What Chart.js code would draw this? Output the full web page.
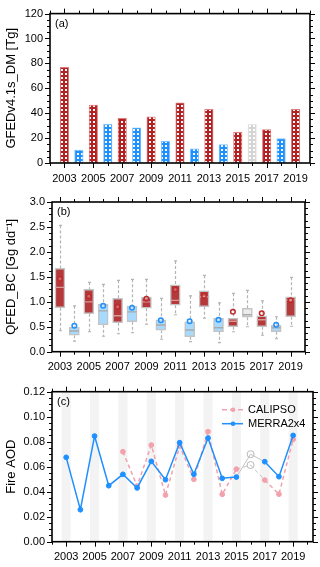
<!doctype html>
<html lang="en">
<head>
<meta charset="utf-8">
<title>Fire emissions and AOD, 2003-2019</title>
<script src="https://cdn.jsdelivr.net/npm/chart.js"></script>
<style>
  html, body { margin: 0; padding: 0; background: #fff; }
  .wrap { position: relative; width: 320px; height: 567px; }
  .panel { position: absolute; left: 0; width: 320px; }
</style>
</head>
<body>
<div class="wrap">
  <div class="panel" style="top:0;height:190px"><canvas id="chartA"></canvas></div>
  <div class="panel" style="top:185px;height:190px"><canvas id="chartB"></canvas></div>
  <div class="panel" style="top:375px;height:192px"><canvas id="chartC"></canvas></div>
</div>
<script>
// ---- data ----
const years = [2003, 2004, 2005, 2006, 2007, 2008, 2009, 2010, 2011, 2012, 2013, 2014, 2015, 2016, 2017, 2018, 2019];
const labelYears = [2003, 2005, 2007, 2009, 2011, 2013, 2015, 2017, 2019];
// r = high fire year, b = low fire year, g = excluded
const yearType = ['r','b','r','b','r','b','r','b','r','b','r','b','r','g','r','b','r'];

// (a) GFEDv4.1s dry matter [Tg]
const gfedDM = [76.8, 10.3, 46.6, 31.0, 35.8, 28.2, 37.1, 17.4, 48.4, 11.3, 43.2, 14.7, 24.7, 31.0, 26.8, 19.7, 43.2];

// (b) QFED BC [Gg dd-1] box statistics
const bcMin  = [0.42, 0.21, 0.40, 0.31, 0.36, 0.38, 0.55, 0.25, 0.74, 0.20, 0.67, 0.18, 0.40, 0.50, 0.33, 0.26, 0.51];
const bcQ1   = [0.88, 0.33, 0.76, 0.54, 0.58, 0.60, 0.87, 0.43, 0.93, 0.30, 0.90, 0.40, 0.50, 0.69, 0.50, 0.40, 0.70];
const bcMed  = [1.29, 0.415, 1.00, 0.82, 0.72, 0.80, 1.00, 0.535, 1.03, 0.435, 1.10, 0.48, 0.61, 0.74, 0.64, 0.48, 1.04];
const bcQ3   = [1.67, 0.49, 1.25, 0.95, 1.07, 0.91, 1.09, 0.64, 1.34, 0.60, 1.22, 0.67, 0.67, 0.87, 0.72, 0.53, 1.10];
const bcMax  = [2.53, 0.92, 1.39, 1.35, 1.43, 1.45, 1.45, 1.07, 1.82, 1.12, 1.53, 0.98, 1.17, 1.23, 1.02, 0.70, 1.49];
const bcMean = [1.46, 0.52, 1.11, 0.92, 0.90, 0.88, 1.06, 0.63, 1.245, 0.61, 1.12, 0.64, 0.80, null, 0.77, 0.54, 1.03];

// (c) Fire AOD
const calipsoAOD = [null, null, null, null, 0.072, 0.0445, 0.0773, 0.0373, 0.0765, 0.0499, 0.088, 0.0379, 0.058, 0.0613, 0.0493, 0.038, 0.0819];
const merraAOD   = [0.0675, 0.0256, 0.0845, 0.0448, 0.0539, 0.043, 0.0643, 0.0496, 0.0792, 0.0539, 0.0829, 0.0507, 0.0517, 0.070, 0.064, 0.052, 0.085];

// ---- styling ----
const FONT = "'Liberation Sans', Arial, Helvetica, sans-serif";
Chart.defaults.font.family = FONT;
Chart.defaults.color = '#000';
Chart.defaults.animation = false;

const RED = '#b22222', BLUE = '#1e90ff', GREY = '#d4d4d4';

function hatch(color) {
  const c = document.createElement('canvas');
  c.width = 4; c.height = 4;
  const g = c.getContext('2d');
  g.fillStyle = color; g.fillRect(0, 0, 4, 4);
  g.fillStyle = '#fff'; g.fillRect(1, 1, 2, 2);
  return g.createPattern(c, 'repeat');
}
const fillOf = { r: hatch(RED), b: hatch(BLUE), g: hatch(GREY) };
const edgeOf = { r: '#e07b7b', b: '#7cc0ff', g: '#e6e6e6' };
const boxFill = { r: '#b5393b', b: '#a6dbff', g: '#ececec' };
const meanCol = { r: '#c0282a', b: '#1e90ff' };

function xScale(min, max, h) {
  return {
    type: 'linear', min: min, max: max, offset: false,
    grid: { display: false, drawTicks: false }, border: { display: false },
    ticks: { font: { size: 11 }, padding: 9, autoSkip: false, maxRotation: 0, callback: v => String(v) },
    afterBuildTicks: s => { s.ticks = labelYears.map(v => ({ value: v })); },
    afterFit: s => { s.height = h; }
  };
}
function yScale(min, max, step, dec, title, w) {
  return {
    min: min, max: max,
    grid: { display: false, drawTicks: false }, border: { display: false },
    ticks: { stepSize: step, font: { size: 11 }, padding: 7, callback: v => Number(v).toFixed(dec) },
    title: { display: true, text: title, font: { size: 13 }, padding: { top: 4, bottom: 0 } },
    afterFit: s => { s.width = w; }
  };
}

// frame + outward ticks on all four sides, panel label
const framePlugin = {
  id: 'frame',
  afterDatasetsDraw(chart, args, o) {
    const { ctx, chartArea: a, scales: { x, y } } = chart;
    ctx.save();
    ctx.strokeStyle = '#000';
    ctx.lineWidth = 1;
    ctx.beginPath();
    for (let v = Math.ceil(x.min); v <= x.max + 1e-9; v++) {
      const p = Math.round(x.getPixelForValue(v)) + 0.5;
      const L = (v % 2 === 1) ? 5 : 3;
      ctx.moveTo(p, a.bottom); ctx.lineTo(p, a.bottom + L);
      ctx.moveTo(p, a.top); ctx.lineTo(p, a.top - L);
    }
    const n = Math.round((y.max - y.min) / o.yMinor);
    for (let i = 0; i <= n; i++) {
      const v = y.min + i * o.yMinor;
      const p = Math.round(y.getPixelForValue(v)) + 0.5;
      const L = (i % o.per === 0) ? 5 : 3;
      ctx.moveTo(a.left, p); ctx.lineTo(a.left - L, p);
      ctx.moveTo(a.right, p); ctx.lineTo(a.right + L, p);
    }
    ctx.stroke();
    ctx.lineWidth = 1.6;
    ctx.strokeRect(a.left, a.top, a.right - a.left, a.bottom - a.top);
    ctx.fillStyle = '#000';
    ctx.font = '11px ' + FONT;
    ctx.textBaseline = 'middle';
    ctx.fillText(o.label, a.left + 5, a.top + 10);
    ctx.restore();
  }
};

// (a) bars
new Chart(document.getElementById('chartA'), {
  type: 'bar',
  data: {
    datasets: [{
      data: years.map((yr, i) => ({ x: yr, y: gfedDM[i] })),
      backgroundColor: yearType.map(t => fillOf[t]),
      borderColor: yearType.map(t => edgeOf[t]),
      borderWidth: 1, borderSkipped: false,
      barThickness: 8.5
    }]
  },
  options: {
    responsive: true, maintainAspectRatio: false,
    layout: { padding: { top: 11, right: 10, left: 0, bottom: 0 } },
    plugins: { legend: { display: false }, tooltip: { enabled: false },
      frame: { label: '(a)', yMinor: 5, per: 4 } },
    scales: { x: xScale(2002, 2020, 27), y: yScale(0, 120, 20, 0, 'GFEDv4.1s_DM [Tg]', 50) }
  },
  plugins: [framePlugin]
});

// (b) box plots
const whiskerPlugin = {
  id: 'whisker',
  beforeDatasetsDraw(chart) {
    const { ctx, scales: { x, y } } = chart;
    ctx.save();
    ctx.strokeStyle = '#b4b4b4';
    ctx.lineWidth = 1.2;
    years.forEach((yr, i) => {
      const px = Math.round(x.getPixelForValue(yr)) + 0.5;
      const pMax = y.getPixelForValue(bcMax[i]), pQ3 = y.getPixelForValue(bcQ3[i]);
      const pMin = y.getPixelForValue(bcMin[i]), pQ1 = y.getPixelForValue(bcQ1[i]);
      ctx.setLineDash([3, 2]);
      ctx.beginPath();
      ctx.moveTo(px, pMax); ctx.lineTo(px, pQ3);
      ctx.moveTo(px, pQ1); ctx.lineTo(px, pMin);
      ctx.stroke();
      ctx.setLineDash([]);
      ctx.beginPath();
      ctx.moveTo(px - 1.5, pMax); ctx.lineTo(px + 1.5, pMax);
      ctx.moveTo(px - 1.5, pMin); ctx.lineTo(px + 1.5, pMin);
      ctx.stroke();
    });
    ctx.restore();
  }
};

new Chart(document.getElementById('chartB'), {
  type: 'bar',
  data: {
    datasets: [
      {
        type: 'line', showLine: false, order: 0,
        data: years.map((yr, i) => ({ x: yr, y: bcMean[i] })).filter(p => p.y !== null),
        pointStyle: 'circle', pointRadius: 2.3, pointBorderWidth: 1.5,
        pointBackgroundColor: 'rgba(255,255,255,0.25)',
        pointBorderColor: years.map((yr, i) => meanCol[yearType[i]]).filter((c, i) => bcMean[i] !== null)
      },
      {
        type: 'line', showLine: false, order: 1,
        data: years.map((yr, i) => ({ x: yr, y: bcMed[i] })),
        pointStyle: 'line', pointRadius: 4.5, pointBorderWidth: 1.3,
        pointBorderColor: yearType.map(t => t === 'r' ? '#d99a9a' : '#a9a9a9')
      },
      {
        order: 2,
        data: years.map((yr, i) => ({ x: yr, y: [bcQ1[i], bcQ3[i]] })),
        backgroundColor: yearType.map(t => boxFill[t]),
        borderColor: '#c4c4c4', borderWidth: 1.5, borderSkipped: false,
        barThickness: 10
      }
    ]
  },
  options: {
    responsive: true, maintainAspectRatio: false,
    layout: { padding: { top: 17, right: 15, left: 0, bottom: 0 } },
    plugins: { legend: { display: false }, tooltip: { enabled: false },
      frame: { label: '(b)', yMinor: 0.125, per: 4 } },
    scales: { x: xScale(2002.45, 2020, 23.3), y: yScale(0, 3, 0.5, 1, 'QFED_BC [Gg dd\u207B\u00B9]', 52) }
  },
  plugins: [whiskerPlugin, framePlugin]
});

// (c) lines
const stripePlugin = {
  id: 'stripe',
  beforeDatasetsDraw(chart) {
    const { ctx, chartArea: a, scales: { x } } = chart;
    ctx.save();
    ctx.fillStyle = '#f3f3f3';
    labelYears.forEach(yr => {
      const l = x.getPixelForValue(yr - 0.32), r = x.getPixelForValue(yr + 0.32);
      ctx.fillRect(l, a.top, r - l, a.bottom - a.top);
    });
    ctx.restore();
  }
};
const legendPlugin = {
  id: 'lgd',
  afterDatasetsDraw(chart) {
    const { ctx, chartArea: a } = chart;
    const items = [
      { text: 'CALIPSO', color: '#f2a2ac', dash: [5, 3] },
      { text: 'MERRA2x4', color: BLUE, dash: [] }
    ];
    ctx.save();
    ctx.font = '11px ' + FONT;
    ctx.textBaseline = 'middle';
    items.forEach((it, k) => {
      const yy = a.top + 18 + k * 14;
      ctx.strokeStyle = it.color; ctx.lineWidth = 1.5; ctx.setLineDash(it.dash);
      ctx.beginPath(); ctx.moveTo(a.right - 91, yy); ctx.lineTo(a.right - 70, yy); ctx.stroke();
      ctx.setLineDash([]);
      ctx.fillStyle = it.color;
      ctx.beginPath(); ctx.arc(a.right - 80, yy, 2.3, 0, Math.PI * 2); ctx.fill();
      ctx.fillStyle = '#000';
      ctx.fillText(it.text, a.right - 65, yy);
    });
    ctx.restore();
  }
};

const isGap = i => years[i] === 2016;
const segGrey = (col, dash) => ({
  borderColor: c => (isGap(c.p0DataIndex) || isGap(c.p1DataIndex)) ? '#c4c4c4' : col,
  borderWidth: c => (isGap(c.p0DataIndex) || isGap(c.p1DataIndex)) ? 1 : 1.5,
  borderDash: c => dash
});

new Chart(document.getElementById('chartC'), {
  type: 'line',
  data: {
    datasets: [
      {
        label: 'CALIPSO', order: 2,
        data: years.map((yr, i) => ({ x: yr, y: calipsoAOD[i] })),
        borderColor: '#f2a2ac', borderWidth: 1.5, borderDash: [5, 3],
        segment: segGrey('#f2a2ac', [4, 3]),
        pointRadius: years.map((yr, i) => isGap(i) ? 3.5 : 2.4),
        pointBackgroundColor: years.map((yr, i) => isGap(i) ? 'rgba(255,255,255,0)' : '#f2a2ac'),
        pointBorderColor: years.map((yr, i) => isGap(i) ? '#b8b8b8' : '#f2a2ac'),
        pointBorderWidth: 1, spanGaps: false
      },
      {
        label: 'MERRA2x4', order: 1,
        data: years.map((yr, i) => ({ x: yr, y: merraAOD[i] })),
        borderColor: BLUE, borderWidth: 1.5,
        segment: segGrey(BLUE, []),
        pointRadius: years.map((yr, i) => isGap(i) ? 3.5 : 2.4),
        pointBackgroundColor: years.map((yr, i) => isGap(i) ? 'rgba(255,255,255,0)' : BLUE),
        pointBorderColor: years.map((yr, i) => isGap(i) ? '#b8b8b8' : BLUE),
        pointBorderWidth: 1
      }
    ]
  },
  options: {
    responsive: true, maintainAspectRatio: false,
    layout: { padding: { top: 16.7, right: 7, left: 0, bottom: 0 } },
    plugins: { legend: { display: false }, tooltip: { enabled: false },
      frame: { label: '(c)', yMinor: 0.005, per: 4 } },
    scales: { x: xScale(2002, 2020.4, 25.3), y: yScale(0, 0.12, 0.02, 2, 'Fire AOD', 52) }
  },
  plugins: [stripePlugin, legendPlugin, framePlugin]
});
</script>
</body>
</html>
